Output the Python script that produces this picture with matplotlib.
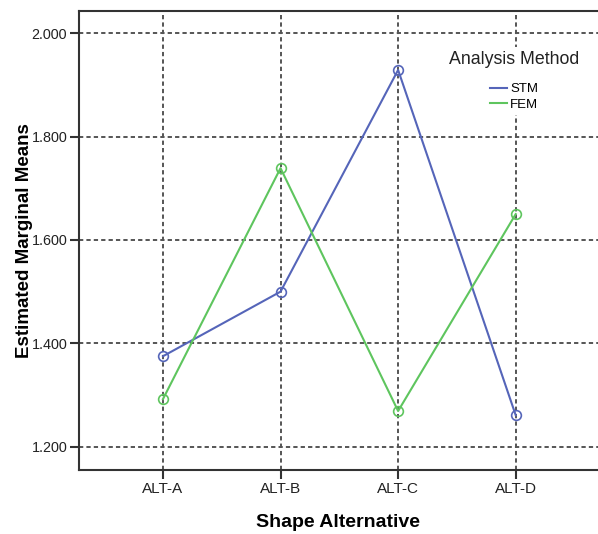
import numpy as np
import matplotlib
matplotlib.use('Agg')
import matplotlib.pyplot as plt

plt.rcParams['font.family'] = ['Liberation Sans', 'DejaVu Sans']

# estimated marginal means per shape alternative
shapes = ['ALT-A', 'ALT-B', 'ALT-C', 'ALT-D']
stm_means = [1.375, 1.500, 1.929, 1.261]
fem_means = [1.292, 1.739, 1.269, 1.650]
yticks = [1.2, 1.4, 1.6, 1.8, 2.0]

stm_col = '#5565b9'
fem_col = '#5ec55e'

f = plt.figure(figsize=(5.98, 5.34), dpi=100)
ax = f.add_axes([0.1321, 0.1199, 0.8679, 0.8596])

x = np.arange(len(shapes))
ax.plot(x, stm_means, color=stm_col, lw=1.5, zorder=3)
ax.plot(x, stm_means, ls='none', marker='o', ms=7, mfc='none',
        mec=stm_col, mew=1.2, zorder=3)
ax.plot(x, fem_means, color=fem_col, lw=1.5, zorder=3)
ax.plot(x, fem_means, ls='none', marker='o', ms=7, mfc='none',
        mec=fem_col, mew=1.2, zorder=3)

ax.set_xlim(-0.714, 3.70)
ax.set_ylim(1.1549, 2.0432)
ax.set_xticks(x)
ax.set_xticklabels(shapes, fontsize=11, color='#222222')
ax.set_yticks(yticks)
ax.set_yticklabels(['%.3f' % v for v in yticks], fontsize=10.4, color='#222222')
ax.tick_params(direction='out', length=6.5, width=1.5, color='#333333', pad=2)

ax.grid(True, color='#555555', lw=1.4, ls=(0, (2.2, 1.6)))
ax.set_axisbelow(True)

for s in ['left', 'bottom', 'top']:
    ax.spines[s].set_linewidth(1.5)
    ax.spines[s].set_color('#333333')
ax.spines['right'].set_visible(False)

ax.set_xlabel('Shape Alternative', fontsize=14, fontweight='bold', labelpad=13)
ax.set_ylabel('Estimated Marginal Means', fontsize=13.5, fontweight='bold', labelpad=-1)

handles = [plt.Line2D([], [], color=stm_col, lw=1.5),
           plt.Line2D([], [], color=fem_col, lw=1.5)]
leg = ax.legend(handles, ['STM', 'FEM'], title='Analysis Method',
                loc='upper center', bbox_to_anchor=(514 / 598, 1 - 47 / 534),
                bbox_transform=f.transFigure, borderaxespad=0, borderpad=0.3,
                fontsize=9.5, title_fontsize=12.8, handlelength=1.3,
                labelspacing=0.25, handletextpad=0.25,
                facecolor='white', edgecolor='none', framealpha=1, fancybox=False)
leg.get_title().set_color('#222222')
leg._legend_box.sep = 11

f.savefig('out.png', dpi=100, facecolor='white')
